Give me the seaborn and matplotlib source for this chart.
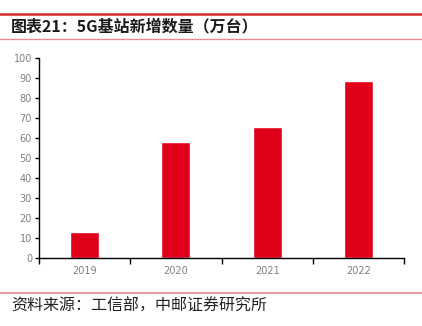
import matplotlib
matplotlib.use("Agg")
import matplotlib.pyplot as plt
import seaborn as sns
import pandas as pd
from matplotlib.lines import Line2D

years = ["2019", "2020", "2021", "2022"]
values = [13.0, 58.0, 65.4, 88.7]
yticks = [0, 10, 20, 30, 40, 50, 60, 70, 80, 90, 100]
title = "图表21：5G基站新增数量（万台）"
source = "资料来源：工信部，中邮证券研究所"

sns.set_theme(style="white")
plt.rcParams['font.family'] = ['Noto Sans CJK SC', 'DejaVu Sans']

df = pd.DataFrame({"year": years, "value": values})

W, H = 422, 326
fig = plt.figure(figsize=(W / 100, H / 100), dpi=100)
ax = fig.add_axes([39 / W, (H - 258) / H, (404 - 39) / W, 200 / H])

sns.barplot(data=df, x="year", y="value", color="#E0001A", width=0.32,
            saturation=1, ax=ax)

ax.set_ylim(0, 100)
ax.set_xlim(-0.5, len(years) - 0.5)
ax.set_yticks(yticks)
ax.set_yticklabels([str(t) for t in yticks], color="#7f7f7f", fontsize=7,
                   family=['DejaVu Sans'])
# category boundaries as major ticks, labels at centers as minor ticks
ax.set_xticks([i - 0.5 for i in range(len(years) + 1)])
ax.set_xticklabels([""] * (len(years) + 1))
ax.set_xticks(range(len(years)), minor=True)
ax.set_xticklabels(years, minor=True, color="#7f7f7f", fontsize=7,
                   family=['DejaVu Sans'])
ax.tick_params(axis="x", which="major", direction="out", length=4, width=1,
               color="black", bottom=True)
ax.tick_params(axis="x", which="minor", length=0, pad=6)
ax.tick_params(axis="y", direction="out", length=3, width=1, color="black",
               left=True, pad=2)
ax.set_xlabel("")
ax.set_ylabel("")
for s in ["top", "right"]:
    ax.spines[s].set_visible(False)
for s in ["left", "bottom"]:
    ax.spines[s].set_color("black")
    ax.spines[s].set_linewidth(1)

# header / footer decorations
fig.add_artist(Line2D([0, 1], [(H - 14) / H] * 2, color="#D7282E", lw=1.8,
                      transform=fig.transFigure))
fig.add_artist(Line2D([0, 1], [(H - 38.5) / H] * 2, color="#EE8A8E", lw=1.0,
                      transform=fig.transFigure))
fig.add_artist(Line2D([0, 1], [(H - 293) / H] * 2, color="#E99A9D", lw=1.5,
                      transform=fig.transFigure))
fig.text(11 / W, (H - 26) / H, title, fontsize=11.5, fontweight="bold",
         va="center", ha="left", color="#1a1a1a")
fig.text(11 / W, (H - 306) / H, source, fontsize=11.5, va="center", ha="left",
         color="#222222")

fig.savefig("out.png", dpi=100)
